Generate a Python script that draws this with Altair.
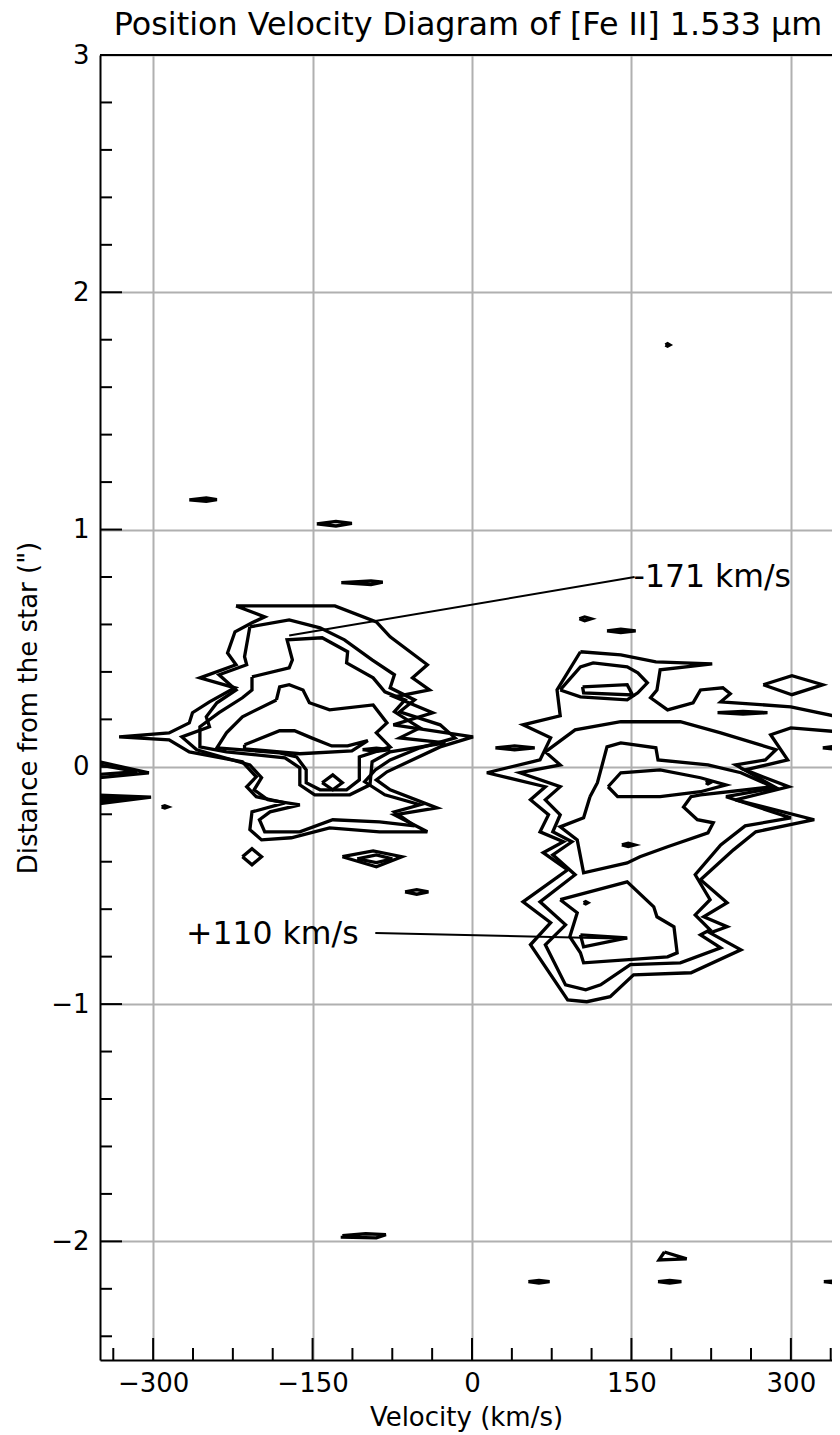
import altair as alt
import pandas as pd

FONT = "DejaVu Sans"
W, H = 732, 1305
X_DOMAIN = [-350, 338.7]
Y_DOMAIN = [-2.5, 3]

# ---- axis ticks ----
X_MAJOR = [-300, -150, 0, 150, 300]
X_MINOR = [-337.5, -262.5, -225, -187.5, -112.5, -75, -37.5, 37.5, 75, 112.5, 187.5, 225, 262.5, 337.5]
Y_MAJOR = [-2, -1, 0, 1, 2, 3]
Y_MINOR = [-2.4, -2.2, -1.8, -1.6, -1.4, -1.2, -0.8, -0.6, -0.4, -0.2, 0.2, 0.4,
           0.6, 0.8, 1.2, 1.4, 1.6, 1.8, 2.2, 2.4, 2.6, 2.8]

# ---- contour paths (velocity km/s, distance arcsec) ----
L1 = [(-222, 0.678), (-172, 0.678), (-129, 0.678), (-90, 0.611), (-77, 0.548), (-42, 0.430),
      (-56, 0.375), (-40, 0.324), (-73, 0.295), (-37, 0.228), (-74, 0.177), (1, 0.126),
      (-30, 0.084), (-80, -0.021), (-90, -0.055), (-77, -0.097), (-33, -0.173), (-73, -0.202),
      (-42, -0.274), (-87, -0.274), (-134, -0.257), (-170, -0.299), (-198, -0.308), (-209, -0.265),
      (-207, -0.190), (-176, -0.152), (-203, -0.126), (-212, -0.084), (-203, -0.042), (-216, 0.021),
      (-266, 0.063), (-285, 0.114), (-332, 0.126), (-285, 0.143), (-266, 0.185), (-263, 0.228),
      (-247, 0.274), (-223, 0.333), (-256, 0.375), (-222, 0.430), (-230, 0.480), (-223, 0.569),
      (-207, 0.607), (-195, 0.632)]
L2 = [(-209, 0.590), (-172, 0.619), (-143, 0.586), (-120, 0.535), (-94, 0.451), (-73, 0.388),
      (-77, 0.333), (-54, 0.282), (-68, 0.232), (-30, 0.177), (-16, 0.122), (-49, 0.080),
      (-77, 0.029), (-91, -0.013), (-101, -0.063), (-82, -0.118), (-49, -0.160), (-73, -0.190),
      (-54, -0.249), (-87, -0.232), (-131, -0.223), (-162, -0.274), (-195, -0.274), (-200, -0.223),
      (-190, -0.190), (-162, -0.160), (-192, -0.139), (-205, -0.097), (-198, -0.046), (-209, 0.008),
      (-259, 0.072), (-273, 0.126), (-247, 0.169), (-250, 0.211), (-240, 0.270), (-222, 0.324),
      (-238, 0.388), (-212, 0.430), (-214, 0.464)]
L3 = [(-207, 0.379), (-172, 0.417), (-169, 0.451), (-174, 0.535), (-141, 0.544), (-117, 0.485),
      (-118, 0.438), (-93, 0.375), (-82, 0.316), (-63, 0.282), (-73, 0.232), (-49, 0.164),
      (-68, 0.122), (-25, 0.101), (-77, 0.063), (-94, 0.021), (-96, -0.076), (-115, -0.118),
      (-148, -0.118), (-162, -0.076), (-162, -0.004), (-176, 0.038), (-231, 0.063), (-256, 0.084),
      (-256, 0.169), (-238, 0.228), (-216, 0.291), (-207, 0.324)]
L3B = [(-184, 0.282), (-181, 0.337), (-172, 0.346), (-159, 0.324), (-153, 0.270), (-134, 0.240),
       (-93, 0.261), (-80, 0.185), (-90, 0.143), (-77, 0.084), (-106, 0.042), (-106, -0.055),
       (-118, -0.097), (-143, -0.097), (-156, -0.067), (-156, -0.013), (-165, 0.042), (-181, 0.059),
       (-240, 0.080), (-231, 0.143), (-216, 0.211)]
L4 = [(-214, 0.093), (-181, 0.152), (-167, 0.152), (-151, 0.122), (-132, 0.088), (-117, 0.088),
      (-98, 0.110), (-113, 0.067), (-162, 0.055), (-214, 0.076)]
D1 = [(-141, -0.067), (-131, -0.034), (-122, -0.067), (-131, -0.097)]

R1 = [(102, 0.485), (140, 0.472), (173, 0.442), (226, 0.434), (177, 0.409), (174, 0.324),
      (168, 0.291), (184, 0.240), (208, 0.270), (215, 0.324), (236, 0.333), (243, 0.308),
      (234, 0.274), (300, 0.253), (358, 0.198), (358, 0.143), (300, 0.164), (281, 0.135),
      (297, 0.029), (257, -0.013), (298, -0.084), (248, -0.139), (322, -0.223), (267, -0.274),
      (246, -0.350), (215, -0.476), (240, -0.573), (218, -0.632), (240, -0.674), (224, -0.700),
      (253, -0.771), (206, -0.868), (152, -0.877), (130, -0.969), (108, -0.990), (90, -0.982),
      (55, -0.750), (74, -0.657), (48, -0.569), (90, -0.434), (67, -0.362), (86, -0.316),
      (64, -0.274), (72, -0.202), (55, -0.139), (69, -0.084), (14, -0.025), (64, 0.029),
      (74, 0.122), (48, 0.177), (83, 0.215), (80, 0.324)]
M2 = [(69, 0.063), (97, 0.156), (140, 0.190), (196, 0.190), (234, 0.143), (286, 0.072),
      (276, 0.029), (248, 0.008), (286, -0.088), (239, -0.126), (300, -0.215), (257, -0.249),
      (234, -0.329), (210, -0.455), (224, -0.560), (210, -0.624), (224, -0.687), (215, -0.708),
      (234, -0.763), (196, -0.826), (149, -0.834), (121, -0.919), (107, -0.940), (88, -0.919),
      (69, -0.750), (88, -0.666), (64, -0.569), (97, -0.455), (76, -0.371), (94, -0.316),
      (76, -0.274), (83, -0.202), (69, -0.139), (83, -0.084), (45, -0.025), (83, 0.008)]
M3U = [(111, -0.126), (118, -0.067), (127, 0.084), (140, 0.101), (173, 0.080), (175, 0.029),
       (222, 0.008), (253, -0.025), (283, -0.084), (215, -0.118), (206, -0.126), (199, -0.169),
       (212, -0.223), (227, -0.236), (222, -0.278), (184, -0.337), (158, -0.379), (146, -0.405),
       (105, -0.447), (99, -0.308), (83, -0.253), (105, -0.215)]
M3L = [(83, -0.560), (146, -0.485), (171, -0.590), (174, -0.632), (190, -0.674), (193, -0.784),
       (184, -0.801), (105, -0.826), (102, -0.784), (92, -0.716), (99, -0.615)]
M4 = [(128, -0.084), (140, -0.025), (177, -0.013), (215, -0.046), (239, -0.076), (215, -0.105),
      (177, -0.126), (137, -0.126)]
T2 = [(83, 0.324), (102, 0.421), (114, 0.438), (146, 0.421), (156, 0.396), (165, 0.354),
      (156, 0.312), (146, 0.282), (102, 0.295)]
T3 = [(104, 0.337), (146, 0.346), (151, 0.303), (105, 0.312)]

S1 = [(-266, 1.125), (-250, 1.133), (-240, 1.126), (-250, 1.119)]
S2 = [(-146, 1.024), (-128, 1.034), (-113, 1.026), (-128, 1.015)]
S3 = [(-123, 0.776), (-95, 0.784), (-84, 0.778), (-95, 0.768)]
S4 = [(101, 0.624), (106, 0.632), (112, 0.624), (106, 0.616)]
S5 = [(127, 0.573), (140, 0.580), (154, 0.573), (140, 0.566)]
S6 = [(182, 1.778), (184, 1.783), (186, 1.778), (184, 1.773)]
S7 = [(-216, -0.379), (-207, -0.345), (-198, -0.379), (-207, -0.413)]
S8 = [(-122, -0.379), (-93, -0.354), (-66, -0.379), (-90, -0.421)]
S8B = [(-108, -0.388), (-90, -0.371), (-75, -0.388), (-90, -0.404)]
S9 = [(-63, -0.527), (-52, -0.518), (-41, -0.527), (-52, -0.537)]
S10 = [(-103, 0.072), (-90, 0.079), (-77, 0.072), (-90, 0.065)]
S11 = [(-292, -0.169), (-289, -0.164), (-286, -0.169), (-289, -0.174)]
W1 = [(-360, 0.030), (-304, -0.025), (-360, -0.050)]
W1B = [(-360, 0.015), (-315, -0.020), (-360, -0.035)]
W2 = [(-360, -0.118), (-302, -0.128), (-360, -0.160)]
W2B = [(-360, -0.130), (-315, -0.132), (-360, -0.148)]
E1 = [(22, 0.080), (40, 0.088), (59, 0.080), (40, 0.072)]
E2 = [(231, 0.228), (255, 0.234), (278, 0.228), (255, 0.222)]
E3 = [(330, 0.080), (345, 0.088), (360, 0.088), (360, 0.072), (345, 0.072)]
E4 = [(274, 0.346), (301, 0.384), (330, 0.346), (301, 0.304)]
E5 = [(220, -0.067), (222, -0.062), (224, -0.067), (222, -0.072)]
E6 = [(141, -0.329), (147, -0.322), (153, -0.329), (147, -0.336)]
E7 = [(105, -0.573), (107, -0.568), (109, -0.573), (107, -0.578)]
E8 = [(102, -0.708), (146, -0.721), (105, -0.759)]
B1 = [(-122, -1.976), (-100, -1.968), (-81, -1.972), (-90, -1.985), (-122, -1.982)]
B2 = [(181, -2.045), (202, -2.074), (176, -2.078)]
B3 = [(53, -2.170), (63, -2.165), (73, -2.170), (63, -2.176)]
B4 = [(175, -2.170), (186, -2.165), (197, -2.170), (186, -2.176)]
B5 = [(331, -2.170), (345, -2.165), (360, -2.167), (360, -2.175), (345, -2.176)]

CONTOURS = [("L1", L1), ("L2", L2), ("L3", L3), ("L3B", L3B), ("L4", L4), ("D1", D1),
            ("R1", R1), ("M2", M2), ("M3U", M3U), ("M3L", M3L), ("M4", M4), ("T2", T2), ("T3", T3),
            ("S1", S1), ("S2", S2), ("S3", S3), ("S4", S4), ("S5", S5), ("S6", S6), ("S7", S7),
            ("S8", S8), ("S8B", S8B), ("S9", S9), ("S10", S10), ("S11", S11),
            ("W1", W1), ("W1B", W1B), ("W2", W2), ("W2B", W2B),
            ("E1", E1), ("E2", E2), ("E3", E3), ("E4", E4), ("E5", E5), ("E6", E6), ("E7", E7),
            ("E8", E8), ("B1", B1), ("B2", B2), ("B3", B3), ("B4", B4), ("B5", B5)]

# ---- annotations ----
ANN_TEXT = ["-171 km/s", "+110 km/s"]
ANN_TEXT_V = [152, -269]
ANN_TEXT_D = [0.797, -0.708]
ANN_LINE_1 = [(153, 0.800), (-172, 0.553)]
ANN_LINE_2 = [(-91, -0.700), (146, -0.725)]

rows = []
for name, pts in CONTOURS:
    loop = list(pts) + [pts[0]]
    for i, (v, d) in enumerate(loop):
        rows.append({"v": v, "d": d, "cid": name, "ord": i})
contour_df = pd.DataFrame(rows)

arows = []
for name, pts in [("a1", ANN_LINE_1), ("a2", ANN_LINE_2)]:
    for i, (v, d) in enumerate(pts):
        arows.append({"v": v, "d": d, "aid": name, "ord": i})
ann_df = pd.DataFrame(arows)
text_df = pd.DataFrame({"v": ANN_TEXT_V, "d": ANN_TEXT_D, "label": ANN_TEXT})

xs = alt.Scale(domain=X_DOMAIN, nice=False, zero=False)
ys = alt.Scale(domain=Y_DOMAIN, nice=False, zero=False)

x_axis = alt.Axis(values=X_MAJOR, title="Velocity (km/s)", titleY=57,
                  titleBaseline="middle", labelPadding=10)
y_axis = alt.Axis(values=Y_MAJOR, title='Distance from the star (")', titleAngle=270,
                  titleX=-72, titleY=H / 2, titleBaseline="middle", titleAlign="center",
                  labelPadding=11)


def X():
    return alt.X("v:Q", scale=xs, axis=x_axis)


def Y():
    return alt.Y("d:Q", scale=ys, axis=y_axis)


contours = alt.Chart(contour_df).mark_line(color="black", strokeWidth=3.3, clip=True).encode(
    x=X(), y=Y(), detail="cid:N", order="ord:Q")

ann_lines = alt.Chart(ann_df).mark_line(color="black", strokeWidth=2, clip=True).encode(
    x=X(), y=Y(), detail="aid:N", order="ord:Q")

ann_text = alt.Chart(text_df).mark_text(align="left", baseline="middle", font=FONT,
                                         fontSize=31.5, color="black").encode(
    x=X(), y=Y(), text="label:N")

xmaj = alt.Chart(pd.DataFrame({"v": X_MAJOR})).mark_rule(color="black", strokeWidth=2).encode(
    x=X(), y=alt.value(H), y2=alt.value(H - 22))
xmin = alt.Chart(pd.DataFrame({"v": X_MINOR})).mark_rule(color="black", strokeWidth=2).encode(
    x=X(), y=alt.value(H), y2=alt.value(H - 12))
ymaj = alt.Chart(pd.DataFrame({"d": Y_MAJOR})).mark_rule(color="black", strokeWidth=2).encode(
    y=Y(), x=alt.value(0), x2=alt.value(22))
ymin = alt.Chart(pd.DataFrame({"d": Y_MINOR})).mark_rule(color="black", strokeWidth=2).encode(
    y=Y(), x=alt.value(0), x2=alt.value(12))
top_spine = alt.Chart(pd.DataFrame({"d": [Y_DOMAIN[1]]})).mark_rule(color="black", strokeWidth=2).encode(
    y=Y(), x=alt.value(0), x2=alt.value(W + 10))

chart = alt.layer(contours, ann_lines, ann_text, xmaj, xmin, ymaj, ymin, top_spine).properties(
    width=W,
    height=H,
    title=alt.TitleParams(text="Position Velocity Diagram of [Fe II] 1.533 μm", font=FONT,
                          fontSize=31.8, fontWeight="normal", color="black", anchor="middle",
                          offset=0, dx=2),
    autosize=alt.AutoSizeParams(type="none"),
    padding={"left": 92, "top": 47, "right": 0, "bottom": 80},
).configure_view(
    stroke=None
).configure_axis(
    grid=True, gridColor="#b0b0b0", gridWidth=2, gridOpacity=1,
    ticks=False, domain=True, domainColor="black", domainWidth=2,
    labelFont=FONT, labelFontSize=26, labelColor="black", labelFlush=False,
    titleFont=FONT, titleFontSize=26, titleFontWeight="normal", titleColor="black",
)

chart.save("out.html", embed_options={"renderer": "svg", "actions": False})
